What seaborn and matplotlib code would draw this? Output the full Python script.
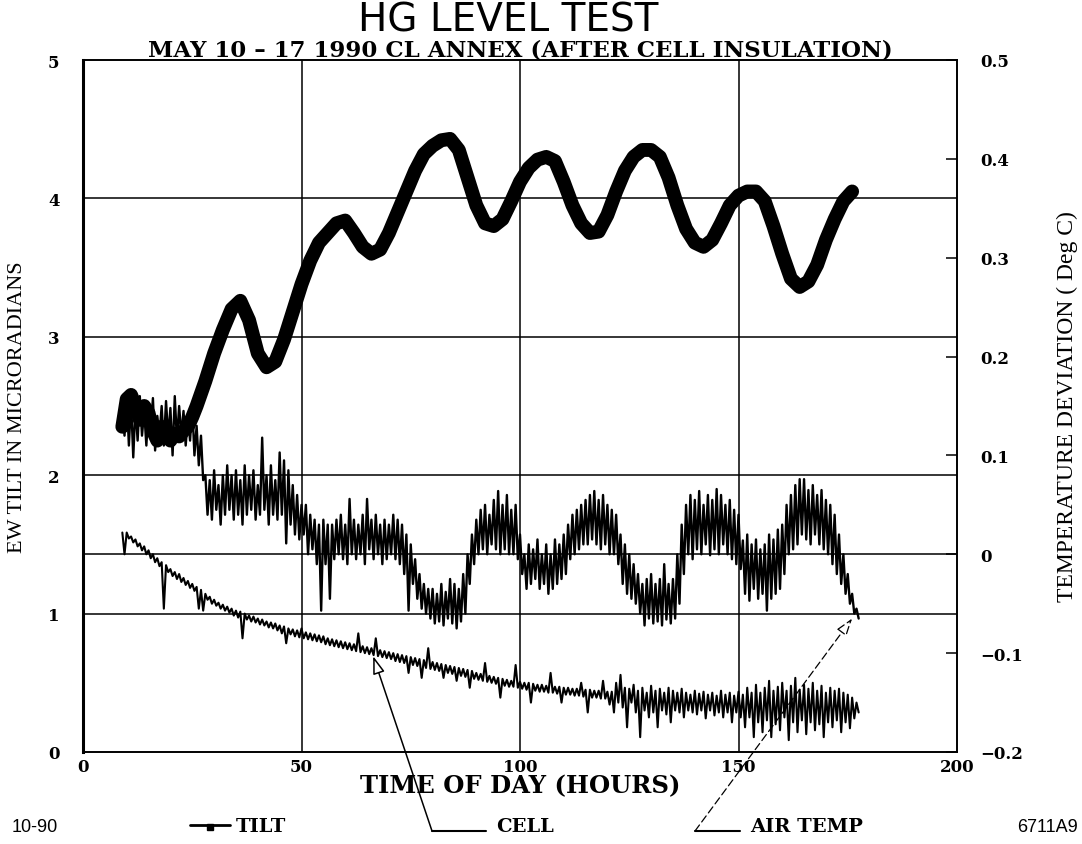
import numpy as np
import pandas as pd
import matplotlib
matplotlib.use("Agg")
import matplotlib.pyplot as plt
import seaborn as sns

sns.set_theme(style="white")
plt.rcParams["font.family"] = ["DejaVu Serif", "DejaVu Sans"]
plt.rcParams["text.color"] = "black"
plt.rcParams["axes.labelcolor"] = "black"
plt.rcParams["xtick.color"] = "black"
plt.rcParams["ytick.color"] = "black"

# ---------------- data ----------------
# EW tilt (microradians), thick trace, left axis
tilt_hours = [9, 10, 11, 12, 13, 14, 15, 16, 17, 18, 19, 20, 21, 22, 23, 24, 25, 26,
              28, 30, 32, 34, 36, 38, 40, 42, 44, 46, 48, 50, 52, 54, 56, 58, 60,
              62, 64, 66, 68, 70, 72, 74, 76, 78, 80, 82, 84, 86, 88, 90, 92, 94,
              96, 98, 100, 102, 104, 106, 108, 110, 112, 114, 116, 118, 120, 122,
              124, 126, 128, 130, 132, 134, 136, 138, 140, 142, 144, 146, 148, 150,
              152, 154, 156, 158, 160, 162, 164, 166, 168, 170, 172, 174, 176]
tilt_values = [2.35, 2.55, 2.58, 2.5, 2.4, 2.5, 2.45, 2.32, 2.25, 2.35, 2.3, 2.25, 2.3,
               2.28, 2.32, 2.35, 2.42, 2.5,
               2.68, 2.88, 3.05, 3.2, 3.26, 3.12, 2.88, 2.78, 2.82, 2.98, 3.18, 3.38, 3.55,
               3.68, 3.75, 3.82, 3.84,
               3.75, 3.65, 3.6, 3.63, 3.75, 3.9, 4.05, 4.2, 4.32, 4.38, 4.42, 4.43,
               4.35, 4.15, 3.95, 3.82, 3.8,
               3.85, 3.98, 4.12, 4.22, 4.28, 4.3, 4.27, 4.12, 3.95, 3.82, 3.75, 3.76,
               3.88, 4.05,
               4.2, 4.3, 4.35, 4.35, 4.3, 4.15, 3.95, 3.78, 3.68, 3.65, 3.7, 3.82, 3.95,
               4.02,
               4.05, 4.05, 3.98, 3.8, 3.6, 3.42, 3.36, 3.4, 3.52, 3.7, 3.85, 3.98, 4.05]

# hourly readings (deg C), right axis: upper / lower excursion in each hour
temp_hours = np.arange(9, 178)

air_hi = [0.15, 0.16, 0.155, 0.15, 0.16, 0.145, 0.15, 0.158, 0.14, 0.15, 0.155, 0.148,
          0.16, 0.15, 0.145, 0.14, 0.15, 0.13, 0.12,
          0.08, 0.075, 0.085, 0.07, 0.08, 0.09, 0.08, 0.085, 0.075, 0.09, 0.08, 0.085,
          0.07, 0.118, 0.08, 0.09, 0.075, 0.103, 0.095, 0.085, 0.07,
          0.06, 0.05, 0.05, 0.04, 0.035,
          0.03, 0.035, 0.03, 0.03, 0.035, 0.04, 0.03, 0.056, 0.035, 0.03, 0.04, 0.056,
          0.035, 0.04, 0.03, 0.035, 0.03, 0.04, 0.035, 0.03,
          0.02, 0.01, -0.005, -0.02, -0.03, -0.035,
          -0.035, -0.04, -0.03, -0.038, -0.025, -0.03, -0.035, -0.02,
          0.0, 0.02, 0.035, 0.045, 0.05, 0.04, 0.055, 0.064, 0.05, 0.06, 0.045, 0.05,
          0.02, 0.0, 0.01, 0.005, 0.015, 0.0, 0.01, 0.0, 0.015, 0.01, 0.02,
          0.03, 0.04, 0.045, 0.05, 0.055, 0.06, 0.064, 0.055, 0.06, 0.05, 0.045, 0.04,
          0.02, 0.01, 0.0, -0.01, -0.02,
          -0.03, -0.025, -0.02, -0.03, -0.025, -0.01, -0.03, -0.025,
          0.0, 0.03,
          0.05, 0.06, 0.055, 0.064, 0.05, 0.06, 0.055, 0.066, 0.06, 0.05, 0.055, 0.045,
          0.04,
          0.014, 0.02, 0.01, 0.015, 0.005, 0.01, 0.02, 0.015, 0.025, 0.03,
          0.05, 0.06, 0.07, 0.076, 0.076, 0.065, 0.07, 0.06, 0.065, 0.055, 0.05, 0.04,
          0.02, 0.0, -0.02, -0.04, -0.055]
air_lo = [0.12, 0.11, 0.098, 0.115, 0.12, 0.11, 0.125, 0.105, 0.12, 0.11, 0.118, 0.1,
          0.115, 0.12, 0.11, 0.115, 0.1, 0.09, 0.075,
          0.04, 0.035, 0.045, 0.03, 0.04, 0.045, 0.035, 0.04, 0.03, 0.04, 0.045, 0.035,
          0.04, 0.045, 0.03, 0.04, 0.035, 0.04, 0.011, 0.03, 0.02,
          0.015, 0.02, 0.0, 0.005, -0.01,
          -0.057, -0.01, -0.045, -0.005, 0.0, -0.005, -0.01, 0.0, -0.005, 0.0, -0.01,
          0.005, -0.005, 0.0, -0.01, -0.005, 0.0, -0.005, -0.01, -0.02,
          -0.057, -0.03, -0.045, -0.055, -0.06, -0.065,
          -0.07, -0.068, -0.072, -0.065, -0.07, -0.075, -0.068, -0.06,
          -0.03, -0.01, 0.0, 0.005, 0.0, 0.01, 0.005, 0.0, 0.005, 0.0, 0.0, -0.005,
          -0.02, -0.035, -0.03, -0.025, -0.035, -0.03, -0.04, -0.035, -0.03, -0.025,
          -0.02,
          -0.005, 0.0, 0.005, 0.01, 0.01, 0.015, 0.01, 0.005, 0.01, 0.0, 0.0, -0.01,
          -0.03, -0.04, -0.045, -0.05, -0.06,
          -0.072, -0.065, -0.07, -0.068, -0.072, -0.066, -0.07, -0.065,
          -0.05, -0.02,
          0.0, -0.005, 0.005, 0.0, 0.01, -0.001, 0.005, 0.0, 0.01, 0.0, -0.005, -0.01,
          -0.015,
          -0.04, -0.047, -0.035, -0.045, -0.04, -0.057, -0.045, -0.04, -0.035, -0.02,
          0.0, 0.005, 0.01, 0.02, 0.015, 0.01, 0.02, 0.01, 0.005, 0.0, -0.01, -0.02,
          -0.03, -0.04, -0.05, -0.06, -0.065]

cell_hi = [0.022, 0.022, 0.018, 0.015, 0.011, 0.008, 0.004, 0.0, -0.004, -0.008,
           -0.011, -0.015, -0.018, -0.02, -0.024, -0.027, -0.03, -0.033, -0.036,
           -0.04, -0.043, -0.046, -0.049, -0.051, -0.053, -0.055, -0.057, -0.058,
           -0.06, -0.062, -0.063, -0.065, -0.066, -0.068, -0.069, -0.07, -0.072,
           -0.073, -0.075, -0.076, -0.077, -0.075, -0.079, -0.08, -0.081, -0.082,
           -0.083, -0.085, -0.086, -0.087, -0.088, -0.089, -0.09, -0.091, -0.08,
           -0.093, -0.094, -0.095, -0.085, -0.097, -0.098, -0.099, -0.1, -0.101,
           -0.102, -0.103, -0.104, -0.105, -0.106, -0.107, -0.095, -0.109,
           -0.11, -0.111, -0.112, -0.113, -0.114, -0.115, -0.116, -0.117, -0.118,
           -0.12, -0.121, -0.11, -0.123, -0.124, -0.125, -0.126, -0.127, -0.128,
           -0.112, -0.129, -0.13, -0.13, -0.131, -0.132, -0.132, -0.133, -0.12,
           -0.134, -0.134, -0.135, -0.135, -0.136, -0.136, -0.13, -0.137, -0.137,
           -0.138, -0.138, -0.128, -0.139, -0.139, -0.13, -0.122, -0.135, -0.136,
           -0.132, -0.138, -0.135, -0.14, -0.133, -0.138, -0.136, -0.14, -0.135,
           -0.138, -0.14, -0.136, -0.14, -0.142, -0.138, -0.141, -0.139, -0.142,
           -0.14, -0.143, -0.138, -0.142, -0.14, -0.143, -0.139, -0.142, -0.135,
           -0.14, -0.132, -0.14, -0.135, -0.128, -0.138, -0.134, -0.13, -0.138,
           -0.133, -0.125, -0.137, -0.132, -0.136, -0.13, -0.138, -0.133, -0.14,
           -0.135, -0.138, -0.136, -0.14, -0.142, -0.145, -0.15]
cell_lo = [0.0, 0.016, 0.012, 0.008, 0.004, 0.0, -0.004, -0.008, -0.012, -0.055,
           -0.018, -0.022, -0.025, -0.028, -0.031, -0.034, -0.037, -0.055, -0.057,
           -0.046, -0.05, -0.052, -0.055, -0.057, -0.059, -0.062, -0.064, -0.085,
           -0.066, -0.068, -0.069, -0.071, -0.072, -0.074, -0.075, -0.077, -0.08,
           -0.09, -0.081, -0.083, -0.084, -0.085, -0.086, -0.087, -0.088, -0.089,
           -0.091, -0.092, -0.093, -0.094, -0.095, -0.096, -0.097, -0.098, -0.099,
           -0.1, -0.101, -0.102, -0.103, -0.104, -0.105, -0.106, -0.108, -0.109,
           -0.11, -0.12, -0.112, -0.113, -0.125, -0.115, -0.116, -0.117,
           -0.118, -0.125, -0.12, -0.121, -0.128, -0.123, -0.124, -0.135, -0.126,
           -0.127, -0.128, -0.129, -0.13, -0.131, -0.145, -0.133, -0.134, -0.134,
           -0.135, -0.136, -0.137, -0.15, -0.138, -0.139, -0.139, -0.14, -0.14,
           -0.141, -0.15, -0.142, -0.142, -0.143, -0.143, -0.144, -0.16, -0.145,
           -0.145, -0.146, -0.146, -0.152, -0.16, -0.15, -0.155, -0.175, -0.15,
           -0.16, -0.185, -0.158, -0.165, -0.16, -0.175, -0.158, -0.162, -0.17,
           -0.158, -0.16, -0.165, -0.158, -0.16, -0.162, -0.158, -0.166, -0.158,
           -0.163, -0.16, -0.165, -0.16, -0.17, -0.16, -0.165, -0.175, -0.165,
           -0.185, -0.17, -0.18, -0.168, -0.185, -0.172, -0.178, -0.165, -0.188,
           -0.17, -0.18, -0.168, -0.182, -0.17, -0.178, -0.172, -0.185, -0.17,
           -0.175, -0.168, -0.18, -0.17, -0.176, -0.166, -0.16]

x_ticks = [0, 50, 100, 150, 200]
left_ticks = [0, 1, 2, 3, 4, 5]
right_ticks = [-0.2, -0.1, 0.0, 0.1, 0.2, 0.3, 0.4, 0.5]
right_labels = ["\u22120.2", "\u22120.1", "0", "0.1", "0.2", "0.3", "0.4", "0.5"]


def zigzag(hours, hi, lo):
    """Interleave each hour's upper and lower reading into one trace."""
    xs, ys = [], []
    for h, a, b in zip(hours, hi, lo):
        xs += [h, h + 0.5]
        ys += [a, b]
    return pd.DataFrame({"hour": xs, "deg": ys})


tilt_df = pd.DataFrame({"hour": tilt_hours, "tilt": tilt_values})
air_df = zigzag(temp_hours, air_hi, air_lo)
cell_df = zigzag(temp_hours, cell_hi, cell_lo)

# ---------------- figure ----------------
W, H = 1082, 845
fig = plt.figure(figsize=(W / 100, H / 100), dpi=100)
fig.patch.set_facecolor("white")
L, R, T, B = 83, 957, 61, 753
ax = fig.add_axes([L / W, 1 - B / H, (R - L) / W, (B - T) / H])
ax2 = ax.twinx()
ax.set_facecolor("white")

ax.set_xlim(0, 200)
ax.set_ylim(0, 5)
ax2.set_ylim(-0.2, 0.5)

# grid
for xv in [50, 100, 150]:
    ax.axvline(xv, color="black", lw=1.1, zorder=1)
for yv in [1, 2, 3, 4]:
    ax.axhline(yv, color="black", lw=1.1, zorder=1)
ax2.axhline(0.0, color="black", lw=1.1, zorder=1)

sns.lineplot(data=cell_df, x="hour", y="deg", ax=ax2, sort=False, estimator=None,
             color="black", lw=1.5, zorder=3)
sns.lineplot(data=air_df, x="hour", y="deg", ax=ax2, sort=False, estimator=None,
             color="black", lw=1.7, zorder=3)
sns.lineplot(data=tilt_df, x="hour", y="tilt", ax=ax, sort=False, estimator=None,
             color="black", lw=10, zorder=4, solid_capstyle="round",
             solid_joinstyle="round")
ax.set_zorder(ax2.get_zorder() + 1)
ax.patch.set_visible(False)

# spines
for s in ["top", "bottom", "left", "right"]:
    ax.spines[s].set_color("black")
    ax2.spines[s].set_color("black")
    ax.spines[s].set_linewidth(1.2)
    ax2.spines[s].set_linewidth(1.2)
ax.spines["left"].set_linewidth(2.2)

tick_font = dict(family="DejaVu Serif", weight="bold", size=12)
ax.set_xticks(x_ticks)
ax.set_xticklabels([str(v) for v in x_ticks], **tick_font)
ax.set_yticks(left_ticks)
ax.set_yticklabels([str(v) for v in left_ticks], **tick_font)
ax.tick_params(axis="x", length=0, pad=4)
ax.tick_params(axis="y", length=0, pad=17)
ax2.set_yticks(right_ticks)
ax2.set_yticklabels(right_labels, **tick_font)
ax2.tick_params(axis="y", direction="in", length=8, width=1.1, pad=17, color="black")

ax.set_xlabel("TIME OF DAY (HOURS)", family="DejaVu Serif", weight="bold", size=17.5,
              labelpad=-1)
ax.set_ylabel("EW TILT IN MICRORADIANS", family="Liberation Serif", size=16)
ax.yaxis.set_label_coords(-0.064, 0.5)
ax2.set_ylabel("TEMPERATURE DEVIATION ( Deg C)", family="Liberation Serif", size=17,
               rotation=90)
ax2.yaxis.set_label_coords(1.114, 0.5)

# titles
fig.text(508 / W, 1 - 31 / H, "HG LEVEL TEST", ha="center", va="baseline",
         family="DejaVu Sans", size=28)
fig.text(520 / W, 1 - 56 / H, "MAY 10 \u2013 17 1990 CL ANNEX (AFTER CELL INSULATION)",
         ha="center", va="baseline", family="DejaVu Serif", weight="bold", size=16.5)

# bottom key row
kb = 1 - 832 / H          # baseline of the key row
narrow = ["Liberation Sans", "DejaVu Sans"]
fig.text(12 / W, kb, "10-90", ha="left", va="baseline", family=narrow, size=13)
fig.text(1078 / W, kb, "6711A9", ha="right", va="baseline", family=narrow, size=13)
key_font = dict(family="DejaVu Serif", weight="bold", size=14, va="baseline", ha="left")
fig.text(236 / W, kb, "TILT", **key_font)
fig.text(496 / W, kb, "CELL", **key_font)
fig.text(750 / W, kb, "AIR TEMP", **key_font)
# tilt key: line with a square marker
fig.add_artist(plt.Line2D([190 / W, 230 / W], [kb + 6 / H, kb + 6 / H], color="black", lw=2))
fig.add_artist(plt.Line2D([210 / W], [kb + 4 / H], marker="s", ms=5, color="black"))
# cell / air temp keys: plain strokes at the baseline
for x0, x1 in [(432, 486), (695, 740)]:
    fig.add_artist(plt.Line2D([x0 / W, x1 / W], [kb, kb], color="black", lw=1.5))

# pointers from the key to each trace
ax2.annotate("", xy=(66.4, -0.103), xycoords="data",
             xytext=(432, H - 832), textcoords="figure pixels",
             arrowprops=dict(arrowstyle="-|>,head_length=0.9,head_width=0.3",
                             fc="white", ec="black", lw=1.1, shrinkA=0, shrinkB=0),
             annotation_clip=False)
ax2.annotate("", xy=(176, -0.065), xycoords="data",
             xytext=(695, H - 832), textcoords="figure pixels",
             arrowprops=dict(arrowstyle="-|>,head_length=0.9,head_width=0.3",
                             fc="white", ec="black", lw=0.9, ls=(0, (6, 3)),
                             shrinkA=0, shrinkB=0),
             annotation_clip=False)

fig.savefig("out.png", dpi=100, facecolor="white")
